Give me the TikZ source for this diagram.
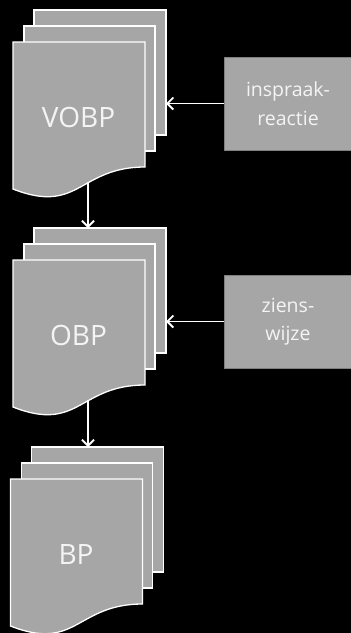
\documentclass[tikz,border=0pt]{standalone}
\usepackage{fontspec}
\setmainfont{Open Sans}
\usetikzlibrary{arrows.meta}
\definecolor{sheetfill}{HTML}{A6A6A6}
\definecolor{boxline}{HTML}{7F7F7F}
\definecolor{txt}{HTML}{F4F4F4}
\tikzset{
  sheet/.style={draw=white, fill=sheetfill, line width=1.3pt},
  backsheet/.style={sheet, rectangle, anchor=north west, minimum width=132pt, minimum height=125pt, inner sep=0pt, outer sep=0pt},
  doclabel/.style={text=txt, font=\fontsize{28}{30}\selectfont, inner sep=0pt},
  inbox/.style={draw=boxline, fill=sheetfill, line width=1pt, minimum width=128pt, minimum height=93pt, inner sep=0pt, text=txt, align=center, font=\fontsize{19.5}{28.5}\selectfont},
  arr/.style={draw=white, line width=1.9pt, -{Straight Barb[length=6pt,width=12pt,line width=1.9pt]}}
}
\newcommand\docstack[4]{%
  \begin{scope}[shift={(#2,#3)}]
    \node[backsheet] (#1-back) at (34,10) {};
    \node[backsheet, minimum width=131pt] (#1-mid) at (24,26) {};
    \draw[sheet] (13,42) -- (145,42) -- (145,167)
      .. controls (79,167) and (79,215) .. (13,189) -- cycle;
    \node[doclabel] (#1-text) at (78.5,117.5) {#4};
    \coordinate (#1-bot) at (88,182);
  \end{scope}}
\begin{document}
\begin{tikzpicture}[x=1pt,y=-1pt]
  \fill[black] (0,0) rectangle (351,633);
  \useasboundingbox (0,0) rectangle (351,633);
  \docstack{vobp}{0}{0}{VOBP}
  \docstack{obp}{0}{218}{OBP}
  \docstack{bp}{-2.5}{437}{BP}
  \node[inbox] (ins) at (288,103.5) {inspraak-\\reactie};
  \node[inbox] (zw) at (288,321.5) {ziens-\\wijze};
  \draw[arr] (ins.west) -- (ins.west -| vobp-back.east);
  \draw[arr] (zw.west) -- (zw.west -| obp-back.east);
  \draw[arr] (vobp-bot) -- (vobp-bot |- obp-back.north);
  \draw[arr] (obp-bot) -- (obp-bot |- bp-back.north);
\end{tikzpicture}
\end{document}
